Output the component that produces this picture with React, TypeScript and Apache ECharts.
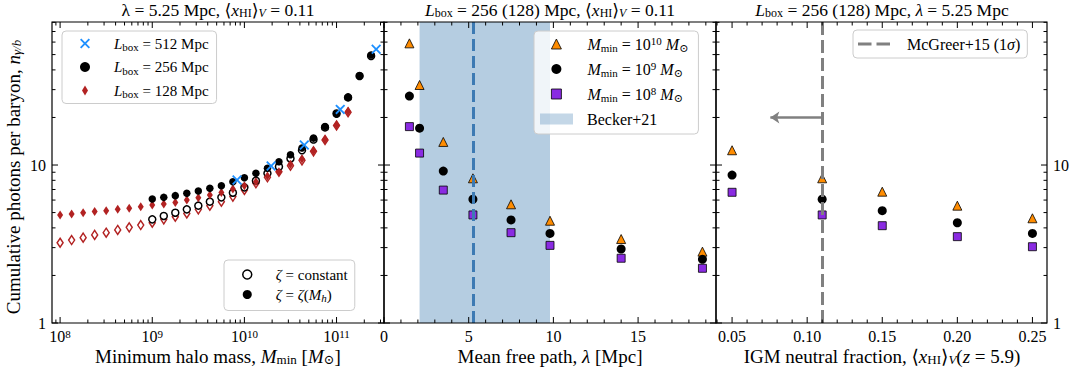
import React, { useEffect, useRef } from 'react';
import * as echarts from 'echarts';

// ---------------- data ----------------
// left panel: log10 of minimum halo mass
const massLog128 = [8.0, 8.125, 8.25, 8.375, 8.5, 8.625, 8.75, 8.875, 9.0, 9.125, 9.25, 9.375, 9.5, 9.625, 9.75, 9.875, 10.0, 10.125, 10.25, 10.375, 10.5, 10.625, 10.75, 10.875, 11.0, 11.125];
const n128Var = [4.83, 4.90, 4.99, 5.07, 5.14, 5.24, 5.32, 5.45, 5.58, 5.66, 5.80, 6.00, 6.20, 6.45, 6.70, 7.05, 7.40, 7.84, 8.51, 9.07, 10.1, 10.9, 12.3, 14.5, 17.9, 21.8];
const n128Const = [3.22, 3.35, 3.47, 3.61, 3.73, 3.88, 4.03, 4.17, 4.31, 4.53, 4.71, 4.94, 5.24, 5.53, 5.86, 6.31, 6.95, 7.66, 8.36, 9.07, 9.9, 10.7, 12.2, 14.4, 17.8, 21.6];
const massLog256 = [9.0, 9.125, 9.25, 9.375, 9.5, 9.625, 9.75, 9.875, 10.0, 10.125, 10.25, 10.375, 10.5, 10.625, 10.75, 10.875, 11.0, 11.125, 11.25, 11.375];
const n256Var = [6.09, 6.24, 6.40, 6.62, 6.84, 7.12, 7.40, 7.84, 8.31, 8.86, 9.53, 10.5, 11.6, 12.8, 14.8, 17.5, 21.0, 26.8, 36.6, 49.7];
const n256Const = [4.53, 4.76, 4.99, 5.24, 5.53, 5.86, 6.24, 6.68, 7.22, 7.96, 8.86, 9.76, 11.0, 12.4, 14.5, 17.3, 21.2, 26.8, 36.6, 49.0];
const massLog512 = [9.92, 10.29, 10.65, 11.04, 11.43];
const n512 = [8.04, 9.86, 13.4, 22.5, 54.0];

// middle panel: mean free path
const mfp = [1.5, 2.1, 3.5, 5.25, 7.5, 9.8, 14.0, 18.8];
const mfpM10 = [58.9, 32.1, 14.0, 8.24, 5.64, 4.44, 3.40, 2.83];
const mfpM9 = [27.3, 17.1, 9.16, 6.07, 4.49, 3.69, 2.94, 2.53];
const mfpM8 = [17.5, 11.9, 6.94, 4.83, 3.73, 3.10, 2.57, 2.22];
const beckerBand = [2.1, 9.8];
const beckerMfp = 5.25;

// right panel: neutral fraction
const xhi = [0.05, 0.11, 0.15, 0.2, 0.25];
const xhiM10 = [12.4, 8.24, 6.78, 5.53, 4.60];
const xhiM9 = [8.64, 6.07, 5.14, 4.31, 3.69];
const xhiM8 = [6.72, 4.83, 4.13, 3.52, 3.04];
const mcgreerX = 0.11;
const arrowFrom = [0.11, 20];
const arrowTo = [0.0755, 20];

// axes
const yRange = [1, 80.4];
const xRangeL = [Math.pow(10, 7.912), Math.pow(10, 11.515)];
const xRangeM = [0, 19.6];
const xRangeR = [0.0393, 0.2597];
const yMajor = [1, 10];
const yMinor = [2, 3, 4, 5, 6, 7, 8, 9, 20, 30, 40, 50, 60, 70, 80];
const xMajorL = [1e8, 1e9, 1e10, 1e11];
const xMajorM = [0, 5, 10, 15];
const xMajorR = [0.05, 0.1, 0.15, 0.2, 0.25];

const FONT = '"Liberation Serif", "DejaVu Serif", serif';
const C_ORANGE = '#ff8c00';
const C_PURPLE = '#8a2be2';
const C_RED = '#b22222';
const C_BLUE = '#1e90ff';
const C_GREY = '#808080';
const C_BAND = 'rgba(70,130,180,0.4)';
const CROSS = 'path://M0,1.3L1.3,0L5,3.7L8.7,0L10,1.3L6.3,5L10,8.7L8.7,10L5,6.3L1.3,10L0,8.7L3.7,5Z';
const DIAMOND = 'path://M3,0L6,5L3,10L0,5Z';
const DASHES = 'path://M0,0L13.5,0L13.5,3L0,3Z M18.5,0L32,0L32,3L18.5,3Z';

function mkRich(fs: number, sp = 0, lhScale = 1.15) {
  const lh = Math.round(fs * lhScale);
  const s = Math.round(fs * 0.7);
  return {
    sp: { width: sp, fontSize: 2, lineHeight: 2 },
    t: { fontFamily: FONT, fontSize: fs, lineHeight: lh, color: '#000' },
    i: { fontFamily: FONT, fontSize: fs, lineHeight: lh, fontStyle: 'italic', color: '#000' },
    sub: { fontFamily: FONT, fontSize: s, lineHeight: 10, verticalAlign: 'bottom', color: '#000' },
    isub: { fontFamily: FONT, fontSize: s, lineHeight: 10, verticalAlign: 'bottom', fontStyle: 'italic', color: '#000' },
    sup: { fontFamily: FONT, fontSize: s, lineHeight: 6, verticalAlign: 'top', color: '#000' },
  };
}

const isPow10 = (v: number) => {
  const l = Math.log10(v);
  return Math.abs(l - Math.round(l)) < 1e-6;
};

function minorLog(range: number[]) {
  const out: number[] = [];
  const lo = Math.floor(Math.log10(range[0]));
  const hi = Math.ceil(Math.log10(range[1]));
  for (let e = lo; e <= hi; e++) {
    for (let k = 2; k <= 9; k++) {
      const v = k * Math.pow(10, e);
      if (v > range[0] && v < range[1]) out.push(v);
    }
  }
  return out;
}
function minorLin(range: number[], step: number, major: number) {
  const out: number[] = [];
  const start = Math.ceil(range[0] / step);
  const end = Math.floor(range[1] / step);
  for (let k = start; k <= end; k++) {
    const v = k * step;
    if (Math.abs(v / major - Math.round(v / major)) > 1e-6) out.push(+v.toFixed(6));
  }
  return out;
}

function tickData(xr: number[], xMaj: number[], xMin: number[]) {
  const d: number[][] = [];
  xMaj.forEach((v) => d.push([v, yRange[0], 0, 6]));
  xMin.forEach((v) => d.push([v, yRange[0], 0, 3.5]));
  yMajor.forEach((v) => d.push([xr[0], v, 1, 6]));
  yMinor.forEach((v) => d.push([xr[0], v, 1, 3.5]));
  d.push([xr[0], yRange[0], 2, 0]);
  return d;
}

function tickSeries(idx: number, xr: number[], xMaj: number[], xMin: number[]) {
  return {
    type: 'custom',
    xAxisIndex: idx,
    yAxisIndex: idx,
    silent: true,
    clip: false,
    z: 20,
    dimensions: ['x', 'y', 'k', 'l'],
    encode: { x: 0, y: 1 },
    data: tickData(xr, xMaj, xMin),
    renderItem: (params: any, api: any) => {
      const kind = api.value(2);
      const len = api.value(3);
      const style = { stroke: '#000', lineWidth: 1 };
      if (kind === 0) {
        const x = api.value(0);
        const b = api.coord([x, yRange[0]]);
        const t = api.coord([x, yRange[1]]);
        return {
          type: 'group',
          children: [
            { type: 'line', shape: { x1: b[0], y1: b[1], x2: b[0], y2: b[1] - len }, style },
            { type: 'line', shape: { x1: t[0], y1: t[1], x2: t[0], y2: t[1] + len }, style },
          ],
        };
      }
      if (kind === 1) {
        const y = api.value(1);
        const l = api.coord([xr[0], y]);
        const r = api.coord([xr[1], y]);
        return {
          type: 'group',
          children: [
            { type: 'line', shape: { x1: l[0], y1: l[1], x2: l[0] + len, y2: l[1] }, style },
            { type: 'line', shape: { x1: r[0], y1: r[1], x2: r[0] - len, y2: r[1] }, style },
          ],
        };
      }
      const a = api.coord([xr[0], yRange[1]]);
      const c = api.coord([xr[1], yRange[0]]);
      return {
        type: 'rect',
        shape: { x: a[0], y: a[1], width: c[0] - a[0], height: c[1] - a[1] },
        style: { fill: 'none', stroke: '#000', lineWidth: 1.2 },
      };
    },
  };
}

const legendNames: Record<string, string> = {
  L512: '{i|L}{sub|box}{t| = 512 Mpc}',
  L256: '{i|L}{sub|box}{t| = 256 Mpc}',
  L128: '{i|L}{sub|box}{t| = 128 Mpc}',
  zc: '{i|ζ}{t| = constant}',
  zm: '{i|ζ}{t| = }{i|ζ}{t|(}{i|M}{isub|h}{t|)}',
  M10: '{i|M}{sub|min}{t| = 10}{sup|10}{t| }{i|M}{sub|⊙}',
  M9: '{i|M}{sub|min}{t| = 10}{sup|9}{t| }{i|M}{sub|⊙}',
  M8: '{i|M}{sub|min}{t| = 10}{sup|8}{t| }{i|M}{sub|⊙}',
  Becker: '{t|Becker+21}',
  McGreer: '{t|McGreer+15 (1}{i|σ}{t|)}',
};

const legendFmt = (n: string) => '{sp| }' + (legendNames[n] || n);

const legendBox = {
  backgroundColor: 'rgba(255,255,255,0.8)',
  borderColor: '#cccccc',
  borderWidth: 1,
  borderRadius: 4,
  selectedMode: false,
  orient: 'vertical',
  formatter: legendFmt,
};

function pairs(xs: number[], ys: number[], f?: (v: number) => number) {
  return xs.map((x, i) => [f ? f(x) : x, ys[i]]);
}
const pow10 = (v: number) => Math.pow(10, v);

function buildOption() {
  const yAxisBase = {
    type: 'log',
    logBase: 10,
    min: yRange[0],
    max: yRange[1],
    axisLine: { show: false },
    axisTick: { show: false },
    minorTick: { show: false },
    splitLine: { show: false },
  };
  const yLabel = {
    color: '#000',
    fontFamily: FONT,
    fontSize: 16,
    margin: 6,
    formatter: (v: number) => (isPow10(v) ? String(Math.round(v)) : ''),
  };
  const xBase = {
    axisLine: { show: false },
    axisTick: { show: false },
    minorTick: { show: false },
    splitLine: { show: false },
  };
  const symBlack = { color: '#000', opacity: 1 };
  const triStyle = { color: C_ORANGE, borderColor: '#000', borderWidth: 0.8, opacity: 1 };
  const sqStyle = { color: C_PURPLE, borderColor: '#000', borderWidth: 0.8, opacity: 1 };
  const xLabelPlain = { color: '#000', fontFamily: FONT, fontSize: 16, lineHeight: 16, margin: 5 };

  const titleText = (x: number, y: number, text: string, fs: number, extra: any = {}) => ({
    type: 'text',
    x,
    y,
    ...extra,
    style: { text, rich: mkRich(fs, 0, 1.0), align: 'center', verticalAlign: 'middle' },
  });

  return {
    animation: false,
    grid: [
      { left: 52, top: 22, width: 332, height: 301 },
      { left: 384, top: 22, width: 332, height: 301 },
      { left: 716, top: 22, width: 331, height: 301 },
    ],
    xAxis: [
      {
        ...xBase,
        type: 'log',
        logBase: 10,
        gridIndex: 0,
        min: xRangeL[0],
        max: xRangeL[1],
        axisLabel: {
          color: '#000',
          margin: 5,
          formatter: (v: number) => (isPow10(v) ? `{b|10}{s|${Math.round(Math.log10(v))}}` : ''),
          rich: {
            b: { fontFamily: FONT, fontSize: 16, lineHeight: 16, color: '#000' },
            s: { fontFamily: FONT, fontSize: 11, lineHeight: 4, verticalAlign: 'top', color: '#000' },
          },
        },
      },
      {
        ...xBase,
        type: 'value',
        gridIndex: 1,
        min: xRangeM[0],
        max: xRangeM[1],
        interval: 5,
        axisLabel: {
          ...xLabelPlain,
          formatter: (v: number) => (Math.abs(v / 5 - Math.round(v / 5)) < 1e-6 ? String(v) : ''),
        },
      },
      {
        ...xBase,
        type: 'value',
        gridIndex: 2,
        min: xRangeR[0],
        max: xRangeR[1],
        axisLabel: {
          ...xLabelPlain,
          formatter: (v: number) => (Math.abs(v / 0.05 - Math.round(v / 0.05)) < 1e-6 ? v.toFixed(2) : ''),
        },
      },
    ],
    yAxis: [
      { ...yAxisBase, gridIndex: 0, axisLabel: yLabel },
      { ...yAxisBase, gridIndex: 1, axisLabel: { show: false } },
      { ...yAxisBase, gridIndex: 2, position: 'right', axisLabel: yLabel },
    ],
    legend: [
      {
        ...legendBox,
        left: 62,
        top: 31,
        padding: [5, 8, 4, 18],
        itemWidth: 10,
        itemHeight: 10,
        itemGap: 7,
        textStyle: { rich: mkRich(15, 19, 1.2) },
        data: [
          { name: 'L512' },
          { name: 'L256', itemStyle: { color: '#000', borderWidth: 0 } },
          { name: 'L128', icon: DIAMOND, itemStyle: { color: C_RED, borderWidth: 0 } },
        ],
      },
      {
        ...legendBox,
        left: 224,
        top: 260,
        padding: [7, 7, 7, 18],
        itemWidth: 9,
        itemHeight: 9,
        itemGap: 5,
        textStyle: { rich: mkRich(15, 19, 1.2) },
        data: [
          { name: 'zc', icon: 'circle', itemStyle: { color: '#fff', borderColor: '#000', borderWidth: 1.5 } },
          { name: 'zm', icon: 'circle', itemStyle: { color: '#000', borderWidth: 0 } },
        ],
      },
      {
        ...legendBox,
        left: 534,
        top: 31,
        padding: [4, 10, 31, 17],
        itemWidth: 10,
        itemHeight: 10,
        itemGap: 7,
        textStyle: { rich: mkRich(16, 21, 1.15) },
        data: [
          { name: 'M10', icon: 'triangle', itemStyle: triStyle },
          { name: 'M9', icon: 'circle', itemStyle: { color: '#000', borderWidth: 0 } },
          { name: 'M8', icon: 'rect', itemStyle: sqStyle },
        ],
      },
      {
        orient: 'vertical',
        selectedMode: false,
        left: 540,
        top: 111,
        padding: 0,
        itemWidth: 33,
        itemHeight: 11,
        symbolKeepAspect: false,
        formatter: legendFmt,
        textStyle: { rich: mkRich(16, 9, 1.15) },
        data: [{ name: 'Becker', icon: 'rect', itemStyle: { color: C_BAND, borderWidth: 0 } }],
      },
      {
        ...legendBox,
        left: 853,
        top: 30,
        padding: [6, 7, 6, 5],
        itemWidth: 32,
        itemHeight: 3,
        textStyle: { rich: mkRich(16, 12, 1.15) },
        data: [{ name: 'McGreer', icon: DASHES, itemStyle: { color: C_GREY, borderWidth: 0 } }],
      },
    ],
    graphic: [
      titleText(218, 10, '{t|λ = 5.25 Mpc, ⟨}{i|x}{sub|HI}{t|⟩}{isub|V}{t| = 0.11}', 17.5),
      titleText(550, 10, '{i|L}{sub|box}{t| = 256 (128) Mpc, ⟨}{i|x}{sub|HI}{t|⟩}{isub|V}{t| = 0.11}', 17.5),
      titleText(882, 10, '{i|L}{sub|box}{t| = 256 (128) Mpc, }{i|λ}{t| = 5.25 Mpc}', 17.5),
      titleText(218, 356, '{t|Minimum halo mass, }{i|M}{sub|min}{t| [}{i|M}{sub|⊙}{t|]}', 19),
      titleText(550, 356, '{t|Mean free path, }{i|λ}{t| [Mpc]}', 19),
      titleText(882, 356, '{t|IGM neutral fraction, ⟨}{i|x}{sub|HI}{t|⟩}{isub|V}{t|(}{i|z}{t| = 5.9)}', 19),
      titleText(13, 177, '{t|Cumulative photons per baryon, }{i|n}{isub|γ/b}', 19, { rotation: Math.PI / 2 }),
    ],
    series: [
      // ---- left panel
      {
        name: '128c', type: 'scatter', xAxisIndex: 0, yAxisIndex: 0,
        symbol: 'diamond', symbolSize: [6, 9],
        itemStyle: { color: '#fff', borderColor: C_RED, borderWidth: 1.5, opacity: 1 },
        data: pairs(massLog128, n128Const, pow10),
      },
      {
        name: 'zc', type: 'scatter', xAxisIndex: 0, yAxisIndex: 0,
        symbol: 'circle', symbolSize: 7,
        itemStyle: { color: '#fff', borderColor: '#000', borderWidth: 1.5, opacity: 1 },
        data: pairs(massLog256, n256Const, pow10),
      },
      {
        name: 'L128', type: 'scatter', xAxisIndex: 0, yAxisIndex: 0,
        symbol: 'diamond', symbolSize: [6, 9],
        itemStyle: { color: C_RED, opacity: 1 },
        data: pairs(massLog128, n128Var, pow10),
      },
      {
        name: 'L256', type: 'scatter', xAxisIndex: 0, yAxisIndex: 0,
        symbol: 'circle', symbolSize: 7.5,
        itemStyle: symBlack,
        data: pairs(massLog256, n256Var, pow10),
      },
      {
        name: 'L512', type: 'scatter', xAxisIndex: 0, yAxisIndex: 0,
        symbol: CROSS, symbolSize: 10,
        itemStyle: { color: C_BLUE, opacity: 1 },
        data: pairs(massLog512, n512, pow10),
      },
      {
        name: 'zm', type: 'scatter', xAxisIndex: 0, yAxisIndex: 0,
        symbol: 'circle', itemStyle: symBlack, data: [],
      },
      tickSeries(0, xRangeL, xMajorL, minorLog(xRangeL)),
      // ---- middle panel
      {
        name: 'Becker', type: 'scatter', xAxisIndex: 1, yAxisIndex: 1,
        itemStyle: { color: C_BAND },
        data: [],
        markArea: {
          silent: true,
          itemStyle: { color: C_BAND },
          data: [[{ xAxis: beckerBand[0] }, { xAxis: beckerBand[1] }]],
        },
        markLine: {
          silent: true,
          symbol: 'none',
          label: { show: false },
          lineStyle: { color: '#3d7ab3', width: 3, type: [12, 5] },
          data: [{ xAxis: beckerMfp }],
        },
      },
      {
        name: 'M10', type: 'scatter', xAxisIndex: 1, yAxisIndex: 1,
        symbol: 'triangle', symbolSize: 9, itemStyle: triStyle,
        data: pairs(mfp, mfpM10),
      },
      {
        name: 'M9', type: 'scatter', xAxisIndex: 1, yAxisIndex: 1,
        symbol: 'circle', symbolSize: 9, itemStyle: symBlack,
        data: pairs(mfp, mfpM9),
      },
      {
        name: 'M8', type: 'scatter', xAxisIndex: 1, yAxisIndex: 1,
        symbol: 'rect', symbolSize: 8, itemStyle: sqStyle,
        data: pairs(mfp, mfpM8),
      },
      tickSeries(1, xRangeM, xMajorM, minorLin(xRangeM, 1, 5)),
      // ---- right panel
      {
        name: 'McGreer', type: 'line', xAxisIndex: 2, yAxisIndex: 2,
        symbol: 'none',
        lineStyle: { color: C_GREY, width: 3, type: [13, 5] },
        data: [],
        markLine: {
          silent: true,
          symbol: 'none',
          label: { show: false },
          lineStyle: { color: C_GREY, width: 3, type: [13, 5] },
          data: [{ xAxis: mcgreerX }],
        },
      },
      {
        name: 'arrow', type: 'line', xAxisIndex: 2, yAxisIndex: 2,
        symbol: 'none', data: [],
        markLine: {
          silent: true,
          symbol: ['none', 'arrow'],
          symbolSize: 9,
          label: { show: false },
          lineStyle: { color: C_GREY, width: 2.5, type: 'solid' },
          data: [[{ coord: arrowFrom }, { coord: arrowTo }]],
        },
      },
      {
        name: 'M10', type: 'scatter', xAxisIndex: 2, yAxisIndex: 2,
        symbol: 'triangle', symbolSize: 9, itemStyle: triStyle,
        data: pairs(xhi, xhiM10),
      },
      {
        name: 'M9', type: 'scatter', xAxisIndex: 2, yAxisIndex: 2,
        symbol: 'circle', symbolSize: 9, itemStyle: symBlack,
        data: pairs(xhi, xhiM9),
      },
      {
        name: 'M8', type: 'scatter', xAxisIndex: 2, yAxisIndex: 2,
        symbol: 'rect', symbolSize: 8, itemStyle: sqStyle,
        data: pairs(xhi, xhiM8),
      },
      tickSeries(2, xRangeR, xMajorR, minorLin(xRangeR, 0.01, 0.05)),
    ],
  };
}

export default function App() {
  const ref = useRef<HTMLDivElement>(null);
  useEffect(() => {
    if (!ref.current) return;
    const chart = echarts.init(ref.current, undefined, { renderer: 'svg' });
    chart.setOption(buildOption() as any);
    return () => chart.dispose();
  }, []);
  return (
    <div
      ref={ref}
      style={{ position: 'absolute', left: 0, top: 0, width: 1073, height: 373, background: '#fff' }}
    />
  );
}
